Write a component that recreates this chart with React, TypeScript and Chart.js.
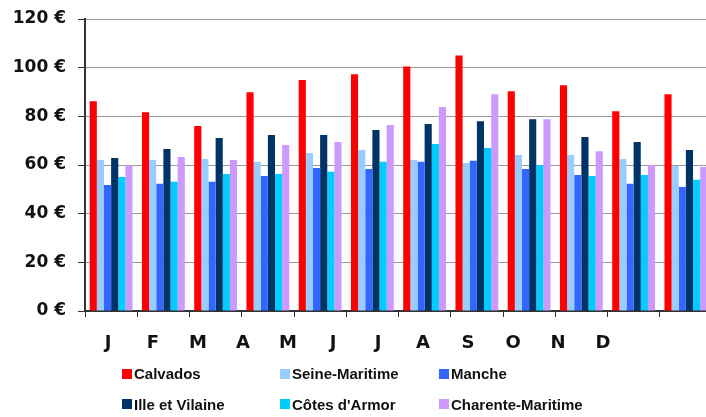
import React, { useEffect, useRef } from "react";
import { Chart, registerables } from "chart.js";

Chart.register(...registerables);

const months = ["J", "F", "M", "A", "M", "J", "J", "A", "S", "O", "N", "D"];
const seriesNames = ["Calvados", "Seine-Maritime", "Manche", "Ille et Vilaine", "Côtes d'Armor", "Charente-Maritime"];
const seriesColors = ["#FF0000", "#99CCFF", "#3366FF", "#003366", "#00CCFF", "#CC99FF"];

const calvados = [86.2, 81.7, 76.0, 89.9, 94.9, 97.3, 100.5, 105.0, 90.3, 92.8, 82.1, 89.1];
const seineMaritime = [62.1, 62.1, 62.5, 61.3, 64.9, 66.2, 62.1, 60.8, 64.1, 64.1, 62.5, 59.6];
const manche = [51.8, 52.3, 53.1, 55.5, 58.8, 58.4, 61.3, 61.7, 58.4, 55.9, 52.3, 51.0];
const illeEtVilaine = [62.9, 66.6, 71.1, 72.3, 72.3, 74.4, 76.8, 78.0, 78.8, 71.5, 69.5, 66.2];
const cotesDArmor = [55.1, 53.1, 56.3, 56.3, 57.2, 61.3, 68.6, 67.0, 60.0, 55.5, 55.9, 53.9];
const charenteMaritime = [59.9, 63.3, 62.1, 68.2, 69.5, 76.4, 83.8, 89.1, 78.8, 65.7, 60.0, 59.2];

const seriesValues = [calvados, seineMaritime, manche, illeEtVilaine, cotesDArmor, charenteMaritime];

const yTicks = [0, 20, 40, 60, 80, 100, 120];

const axisFont = { family: "'DejaVu Sans', sans-serif", size: 17, weight: "bold" as const };

export default function App() {
  const canvasRef = useRef<HTMLCanvasElement | null>(null);

  useEffect(() => {
    const canvas = canvasRef.current;
    if (!canvas) return;
    const chart = new Chart(canvas, {
      type: "bar",
      data: {
        labels: months,
        datasets: seriesNames.map((name, i) => ({
          label: name,
          data: seriesValues[i],
          backgroundColor: seriesColors[i],
          borderWidth: 0,
          categoryPercentage: 0.82,
          barPercentage: 1,
        })),
      },
      options: {
        responsive: false,
        maintainAspectRatio: false,
        animation: false,
        layout: { padding: { top: 19, right: 0, left: 0, bottom: 56 } },
        plugins: {
          legend: { display: false },
          tooltip: { enabled: false },
        },
        scales: {
          x: {
            type: "category",
            position: "bottom",
            weight: 0,
            offset: true,
            grid: {
              display: true,
              drawOnChartArea: false,
              drawTicks: true,
              tickLength: 6,
              tickColor: "#333333",
              offset: true,
            },
            border: { display: true, color: "#333333", width: 2 },
            ticks: { display: false },
            afterFit: (scale: any) => {
              scale.height = 6;
            },
          },
          xl: {
            type: "linear",
            position: "bottom",
            weight: 1,
            offset: false,
            bounds: "data",
            min: -0.511,
            max: 13.42,
            grid: { display: false, drawTicks: false, offset: false },
            border: { display: false },
            afterBuildTicks: (scale: any) => {
              scale.ticks = months.map((_, i) => ({ value: i }));
            },
            ticks: {
              autoSkip: false,
              maxRotation: 0,
              padding: 16,
              color: "#111111",
              font: { family: "'DejaVu Sans', sans-serif", size: 18, weight: "bold" },
              callback: (v: any) => months[Number(v)] ?? "",
            },
            afterFit: (scale: any) => {
              scale.height = 44;
            },
          },
          y: {
            min: 0,
            max: 120,
            afterBuildTicks: (scale: any) => {
              scale.ticks = yTicks.map((v) => ({ value: v }));
            },
            grid: {
              color: "#999999",
              lineWidth: 1,
              tickLength: 7,
              tickColor: "#333333",
            },
            border: { display: true, color: "#333333", width: 2 },
            ticks: {
              padding: 12,
              color: "#111111",
              font: axisFont,
              callback: (v: any) => `${v} €`,
            },
            afterFit: (scale: any) => {
              scale.width = 85;
              scale.paddingTop = 0;
              scale.paddingBottom = 0;
            },
          },
        },
      },
    });
    return () => chart.destroy();
  }, []);

  const legendCols = [122, 280, 439];
  const legendRows = [373.5, 404];

  return (
    <div
      style={{
        position: "fixed",
        left: 0,
        top: 0,
        width: 706,
        height: 417,
        overflow: "hidden",
        background: "#ffffff",
      }}
    >
      <canvas ref={canvasRef} width={712} height={417} style={{ display: "block" }} />
      {seriesNames.map((name, i) => {
        const col = i % 3;
        const row = Math.floor(i / 3);
        return (
          <div
            key={name}
            style={{
              position: "absolute",
              left: legendCols[col],
              top: legendRows[row] - 10,
              height: 20,
              display: "flex",
              alignItems: "center",
              whiteSpace: "nowrap",
              fontFamily: "'Liberation Sans', Arial, sans-serif",
              fontWeight: "bold",
              fontSize: 15,
              color: "#111111",
            }}
          >
            <span
              style={{
                display: "inline-block",
                width: 10,
                height: 10,
                background: seriesColors[i],
                marginRight: 2,
              }}
            />
            {name}
          </div>
        );
      })}
    </div>
  );
}
